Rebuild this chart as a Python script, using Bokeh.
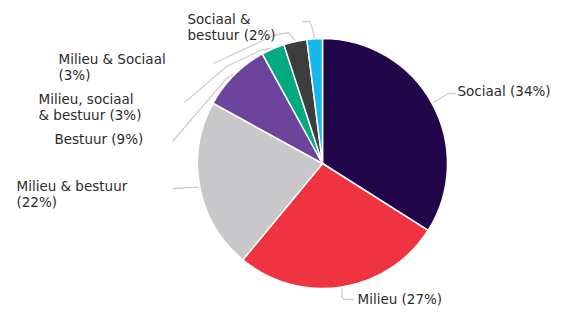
import math
from bokeh.plotting import figure
from bokeh.models import Range1d, ColumnDataSource
from bokeh.core.properties import value
from bokeh.embed import file_html
from bokeh.resources import INLINE

# ---- data ----
categories = ["Sociaal", "Milieu", "Milieu & bestuur", "Bestuur",
              "Milieu, sociaal & bestuur", "Milieu & Sociaal", "Sociaal & bestuur"]
shares = [34, 27, 22, 9, 3, 3, 2]
colors = ["#22064a", "#ef3340", "#c8c8ca", "#6d449b", "#00a97f", "#3d3d3d", "#14b8ec"]
label_lines = [["Sociaal (34%)"], ["Milieu (27%)"], ["Milieu & bestuur", "(22%)"],
               ["Bestuur (9%)"], ["Milieu, sociaal", "& bestuur (3%)"],
               ["Milieu & Sociaal", "(3%)"], ["Sociaal &", "bestuur (2%)"]]

# ---- layout (page pixel coords -> figure coords) ----
W, H = 560, 312
OFF = 0
def fx(px): return px - OFF
def fy(py): return H - (py - OFF)

CX, CY, R = 322, 163, 125
# label anchors: left x, first line centre y (page px)
label_pos = [(457, 90), (357, 298), (16, 185), (54, 138), (38, 98), (58, 58), (187, 18)]
# connector paths from label side to crook (page px); end point computed from slice mid angle
conn_start = [[(455, 93), (448, 93)],
              [(353, 299), (344, 299), (341, 296)],
              [(172, 188)],
              [(172, 141), (226, 78)],
              [(184, 102), (226, 66), (260, 50)],
              [(213, 63), (273, 35), (288, 32)],
              [(302, 21), (309, 21), (311, 25)]]

p = figure(width=W, height=H, output_backend="svg", toolbar_location=None,
           x_range=Range1d(0, W), y_range=Range1d(0, H),
           x_axis_location=None, y_axis_location=None, min_border=0)
p.outline_line_color = None
p.grid.visible = False
p.background_fill_color = "white"
p.border_fill_color = "white"

total = sum(shares)
starts, ends, mids = [], [], []
cum = 0
for s in shares:
    a0 = math.pi / 2 - 2 * math.pi * cum / total
    cum += s
    a1 = math.pi / 2 - 2 * math.pi * cum / total
    starts.append(a0); ends.append(a1); mids.append((a0 + a1) / 2)

# connectors
for i, m in enumerate(mids):
    ex = CX + (R + 1) * math.cos(m)
    ey = CY - (R + 1) * math.sin(m)
    pts = conn_start[i] + [(ex, ey)]
    p.line([fx(x) for x, y in pts], [fy(y) for x, y in pts],
           line_color="#cfcfcf", line_width=1.3)

src = ColumnDataSource(dict(start=starts, end=ends, color=colors))
p.wedge(x=fx(CX), y=fy(CY), radius=R, start_angle="start", end_angle="end",
        direction="clock", fill_color="color", line_color="white", line_width=1.5,
        source=src)

tx, ty, tt = [], [], []
for (lx, ly), lines in zip(label_pos, label_lines):
    for k, t in enumerate(lines):
        tx.append(fx(lx)); ty.append(fy(ly + 16 * k)); tt.append(t)
p.text(x=tx, y=ty, text=tt, text_font=value("DejaVu Sans"), text_font_size="13.5px",
       text_color="#2b2b2b", text_baseline="middle", text_align="left")

open("out.html", "w").write(file_html(p, INLINE))
